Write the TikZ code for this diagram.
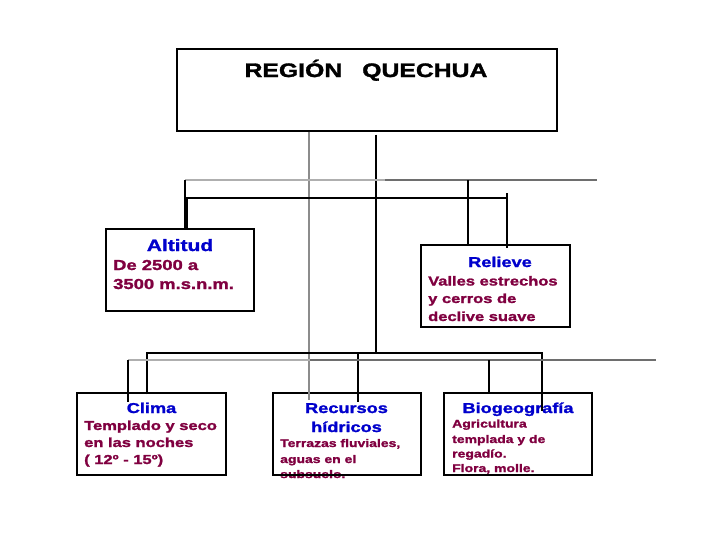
\documentclass[tikz,border=0pt]{standalone}
\usepackage{fontspec}
\setmainfont{Liberation Sans}[FakeStretch=1.27, BoldFeatures={FakeBold=1.6}]
\usetikzlibrary{calc}
\definecolor{hdc}{RGB}{0,0,204}
\definecolor{bdc}{RGB}{128,0,64}
\definecolor{lgr}{RGB}{175,175,175}
\definecolor{dgr}{RGB}{110,110,110}
\definecolor{mgr}{RGB}{140,140,140}
\newcommand{\fs}[1]{\bfseries\fontsize{#1}{#1}\selectfont}
\tikzset{
  boxnode/.style={draw=black, line width=1.4pt, rectangle, inner sep=0, minimum width=148pt, minimum height=82pt},
  hd/.style={anchor=base, inner sep=0, text=hdc, font=\fs{14.3}},
  bl/.style={anchor=base west, inner sep=0, text=bdc, font=\fs{13}},
  bs/.style={anchor=base west, inner sep=0, text=bdc, font=\fs{11}},
  blk/.style={draw=black, line width=1.2pt},
  lg/.style={draw=lgr, line width=1.6pt},
  dg/.style={draw=dgr, line width=1.3pt},
  mg/.style={draw=mgr, line width=1.4pt}
}
\begin{document}
\begin{tikzpicture}[x=1pt, y=-1pt]
\useasboundingbox[fill=white] (0,0) rectangle (728,546);
% texts
\node[anchor=base, inner sep=0, text=black, font=\fs{19.5}] (ttl) at (366,77) {REGIÓN\hspace{20pt}QUECHUA};
\node[hd, font=\fs{16.5}] (altH) at (180,251) {Altitud};
\node[bl, font=\fs{14.5}] (alt1) at (113,270) {De 2500 a};
\node[bl, font=\fs{14.5}] (alt2) at (113,289) {3500 m.s.n.m.};
\node[hd] (relH) at (500,267) {Relieve};
\node[bl] (rel1) at (428,285.5) {Valles estrechos};
\node[bl] (rel2) at (428,303) {y cerros de};
\node[bl] (rel3) at (428,321) {declive suave};
\node[hd] (cliH) at (151.5,413) {Clima};
\node[bl] (cli1) at (84,430) {Templado y seco};
\node[bl] (cli2) at (84,447) {en las noches};
\node[bl] (cli3) at (84,464) {( 12º - 15º)};
\node[hd] (recH) at (346.5,413) {Recursos};
\node[hd] (recH2) at (346.5,432) {hídricos};
\node[bs] (rec1) at (280,447) {Terrazas fluviales,};
\node[bs] (rec2) at (280,463) {aguas en el};
\node[bs] (rec3) at (280,478) {subsuelo.};
\node[hd] (bioH) at (518,413) {Biogeografía};
\node[bs] (bio1) at (452,427.5) {Agricultura};
\node[bs] (bio2) at (452,443) {templada y de};
\node[bs] (bio3) at (452,457.5) {regadío.};
\node[bs] (bio4) at (452,472) {Flora, molle.};
% boxes
\node[boxnode, minimum width=380pt] (title) at (367,90) {};
\node[boxnode] (alt) at (180,270) {};
\node[boxnode, minimum width=149pt] (rel) at (495.5,286) {};
\node[boxnode, minimum width=149pt] (cli) at (151.5,434) {};
\node[boxnode] (rec) at (347,434) {};
\node[boxnode] (bio) at (518,434) {};
% coordinates
\coordinate (g1) at (309,400);
\coordinate (c1) at (376,353);
\coordinate (a1) at (185,180);
\coordinate (a2) at (385,180);
\coordinate (a3) at (597,180);
\coordinate (a4) at (468,180);
\coordinate (k1) at (187,198);
\coordinate (k2) at (507,198);
\coordinate (k3) at (507,193);
\coordinate (b1) at (147,353);
\coordinate (b2) at (542,353);
\coordinate (b3) at (358,353);
\coordinate (d1) at (128,360);
\coordinate (d2) at (310,360);
\coordinate (d3) at (656,360);
\coordinate (d4) at (489,360);
% connectors
\draw[mg] (title.south -| g1) -- (g1);
\draw[blk] ($(title.south -| c1)+(0,3)$) -- (c1);
\draw[lg] (a1) -- (a2);
\draw[dg] (a2) -- (a3);
\draw[blk] (a1) -- (a1 |- alt.north);
\draw[blk] (a4) -- (a4 |- rel.north);
\draw[blk] (k1 |- alt.north) -- (k1) -- (k2);
\draw[blk] (k3) -- ($(k3 |- rel.north)+(0,4)$);
\draw[blk] ($(b1 |- cli.north)+(0,2)$) -- (b1) -- (b2) -- ($(b2 |- bio.north)+(0,19)$);
\draw[blk] (b3) -- ($(b3 |- rec.north)+(0,10)$);
\draw[lg] (d1) -- (d2);
\draw[dg] (d2) -- (d3);
\draw[blk] (d1) -- ($(d1 |- cli.north)+(0,10)$);
\draw[blk] (d4) -- ($(d4 |- bio.north)+(0,2)$);
\end{tikzpicture}
\end{document}
